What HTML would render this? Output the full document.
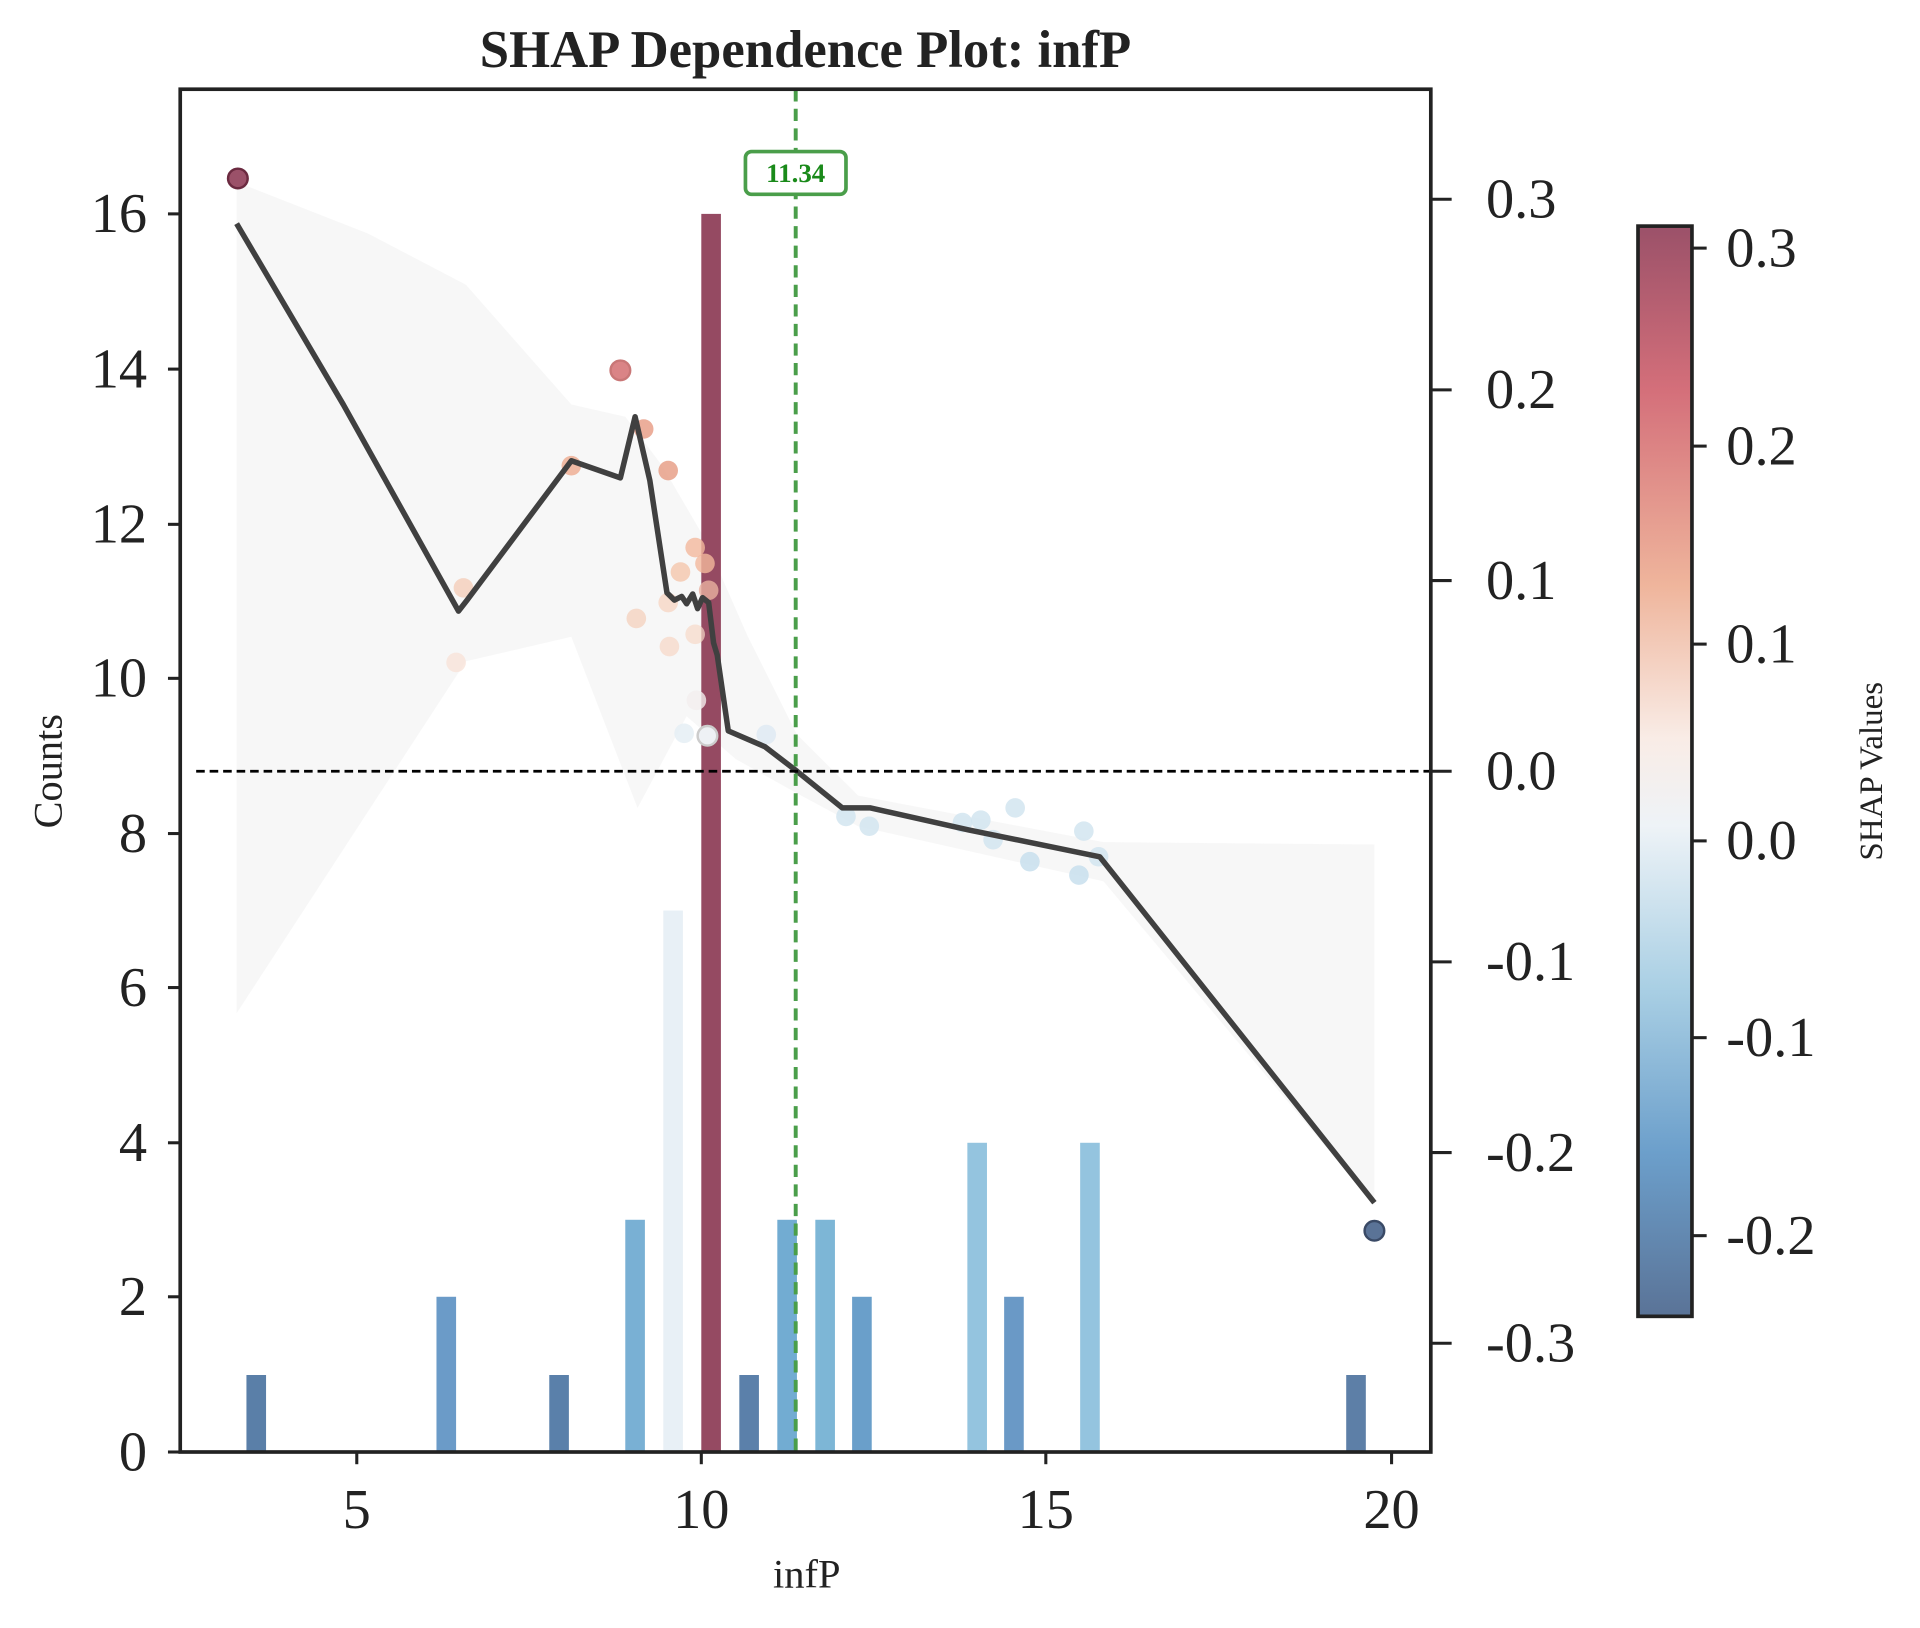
<!DOCTYPE html>
<html><head><meta charset="utf-8"><style>html,body{margin:0;padding:0;background:#fff}svg{display:block}</style></head><body>
<svg width="1920" height="1628" viewBox="0 -1 1566 1332" preserveAspectRatio="none" xmlns="http://www.w3.org/2000/svg" font-family="Liberation Serif, serif">
<defs><linearGradient id="cb" x1="0" y1="0" x2="0" y2="1">
<stop offset="0" stop-color="#9b5169"/><stop offset="0.15" stop-color="#d46f7a"/><stop offset="0.33" stop-color="#efb59c"/><stop offset="0.47" stop-color="#f9ece6"/><stop offset="0.55" stop-color="#eef3f7"/><stop offset="0.7" stop-color="#a9cfe4"/><stop offset="0.85" stop-color="#6c9fcb"/><stop offset="1" stop-color="#5a7397"/></linearGradient></defs>
<text x="657" y="54" font-size="43" font-weight="bold" text-anchor="middle" fill="#222">SHAP Dependence Plot: infP</text>
<polygon fill="#efefef" fill-opacity="0.5" points="193,148 300,190 380,232 466,330 510,340 540,380 575,440 610,520 650,600 700,650 900,688 1121,690 1121,985 900,720 700,675 650,648 600,620 560,585 520,660 466,520 380,540 193,828"/>
<g>
<rect x="201" y="1124" width="16" height="63" fill="#5a7fa8"/>
<rect x="356" y="1060" width="16" height="127" fill="#6b9bc8"/>
<rect x="448" y="1124" width="16" height="63" fill="#5a80aa"/>
<rect x="510" y="997" width="16" height="190" fill="#79b0d4"/>
<rect x="541" y="744" width="16" height="443" fill="#e8f0f6"/>
<rect x="572" y="174" width="16" height="1013" fill="#954a62"/>
<rect x="603" y="1124" width="16" height="63" fill="#5b80aa"/>
<rect x="634" y="997" width="16" height="190" fill="#72acd2"/>
<rect x="665" y="997" width="16" height="190" fill="#7db6d6"/>
<rect x="695" y="1060" width="16" height="127" fill="#6a9fca"/>
<rect x="789" y="934" width="16" height="253" fill="#94c4df"/>
<rect x="819" y="1060" width="16" height="127" fill="#6a99c6"/>
<rect x="881" y="934" width="16" height="253" fill="#94c4df"/>
<rect x="1098" y="1124" width="16" height="63" fill="#5d7fa7"/>
</g>
<g stroke-width="2">
<circle cx="194" cy="145" r="8" fill="#9b5169" stroke="#6b2a40"/>
<circle cx="506" cy="302" r="8" fill="#d46f72" stroke="#c06060" opacity=".85"/>
<circle cx="525" cy="350" r="8" fill="#e79a82" opacity=".8"/>
<circle cx="466" cy="380" r="8" fill="#eeaa8e" opacity=".8"/>
<circle cx="545" cy="384" r="8" fill="#e8a088" opacity=".85"/>
<circle cx="567" cy="447" r="8" fill="#f2b89c" opacity=".8"/>
<circle cx="575" cy="460" r="8" fill="#f2b89c" opacity=".8"/>
<circle cx="555" cy="467" r="8" fill="#f4c5ab" opacity=".8"/>
<circle cx="378" cy="480" r="8" fill="#f4c8b0" opacity=".7"/>
<circle cx="578" cy="482" r="8" fill="#e8b0a0" opacity=".8"/>
<circle cx="545" cy="492" r="8" fill="#f6d2bd" opacity=".7"/>
<circle cx="519" cy="505" r="8" fill="#f4cdb8" opacity=".7"/>
<circle cx="567" cy="518" r="8" fill="#f7d9c8" opacity=".7"/>
<circle cx="546" cy="528" r="8" fill="#f6d6c4" opacity=".7"/>
<circle cx="372" cy="541" r="8" fill="#f8e0d4" opacity=".7"/>
<circle cx="568" cy="572" r="8" fill="#f3eeee" opacity=".8"/>
<circle cx="558" cy="599" r="8" fill="#e3edf4" opacity=".8"/>
<circle cx="577" cy="601" r="8" fill="#eef1f5" stroke="#ccc"/>
<circle cx="625" cy="600" r="8" fill="#dde9f2" opacity=".8"/>
<circle cx="690" cy="667" r="8" fill="#cfe3ef" opacity=".8"/>
<circle cx="709" cy="675" r="8" fill="#cfe3ef" opacity=".8"/>
<circle cx="785" cy="672" r="8" fill="#cfe3ef" opacity=".8"/>
<circle cx="800" cy="670" r="8" fill="#cfe3ef" opacity=".8"/>
<circle cx="810" cy="686" r="8" fill="#cfe3ef" opacity=".8"/>
<circle cx="828" cy="660" r="8" fill="#cfe3ef" opacity=".8"/>
<circle cx="840" cy="704" r="8" fill="#c4ddec" opacity=".8"/>
<circle cx="880" cy="715" r="8" fill="#c4ddec" opacity=".8"/>
<circle cx="884" cy="679" r="8" fill="#cfe3ef" opacity=".8"/>
<circle cx="896" cy="700" r="8" fill="#cfe3ef" opacity=".8"/>
<circle cx="1121" cy="1006" r="8" fill="#5a7397" stroke="#3a4a66"/>
</g>
<polyline fill="none" stroke="#404040" stroke-width="4.5" stroke-linejoin="round" points="193,182 280,330 374,499 381,490 466,376 506,390 518,340 530,392 544,484 550,490 556,487 560,493 565,485 569,497 573,488 578,492 582,525 585,535 594,597 624,610 650,630 687,660 710,660 790,678 897,700 1121,983"/>
<line x1="160" y1="630" x2="1167" y2="630" stroke="#000" stroke-width="2.2" stroke-dasharray="7,4"/>
<line x1="649" y1="72" x2="649" y2="1187" stroke="#4a9e4a" stroke-width="3.2" stroke-dasharray="10,6"/>
<rect x="608" y="123" width="82" height="35" rx="5" fill="#fff" stroke="#4a9e4a" stroke-width="3"/>
<text x="649" y="148" font-size="22" font-weight="bold" fill="#1a8a1a" text-anchor="middle">11.34</text>
<rect x="147" y="72" width="1020" height="1115" fill="none" stroke="#222" stroke-width="3"/>
<g stroke="#222" stroke-width="2.5">
<line x1="291" y1="1187" x2="291" y2="1197"/><line x1="572" y1="1187" x2="572" y2="1197"/><line x1="853" y1="1187" x2="853" y2="1197"/><line x1="1135" y1="1187" x2="1135" y2="1197"/>
<line x1="137" y1="1187" x2="147" y2="1187"/><line x1="137" y1="1060" x2="147" y2="1060"/><line x1="137" y1="934" x2="147" y2="934"/><line x1="137" y1="807" x2="147" y2="807"/><line x1="137" y1="681" x2="147" y2="681"/><line x1="137" y1="554" x2="147" y2="554"/><line x1="137" y1="428" x2="147" y2="428"/><line x1="137" y1="301" x2="147" y2="301"/><line x1="137" y1="174" x2="147" y2="174"/>
<line x1="1167" y1="162" x2="1184" y2="162"/><line x1="1167" y1="318" x2="1184" y2="318"/><line x1="1167" y1="474" x2="1184" y2="474"/><line x1="1167" y1="630" x2="1184" y2="630"/><line x1="1167" y1="786" x2="1184" y2="786"/><line x1="1167" y1="942" x2="1184" y2="942"/><line x1="1167" y1="1098" x2="1184" y2="1098"/>
</g>
<g font-size="46" fill="#222">
<g text-anchor="middle"><text x="291" y="1249">5</text><text x="572" y="1249">10</text><text x="853" y="1249">15</text><text x="1135" y="1249">20</text></g>
<g text-anchor="end"><text x="120" y="1202">0</text><text x="120" y="1075">2</text><text x="120" y="949">4</text><text x="120" y="822">6</text><text x="120" y="696">8</text><text x="120" y="569">10</text><text x="120" y="443">12</text><text x="120" y="316">14</text><text x="120" y="189">16</text></g>
<g><text x="1212" y="177">0.3</text><text x="1212" y="333">0.2</text><text x="1212" y="489">0.1</text><text x="1212" y="645">0.0</text><text x="1212" y="801">-0.1</text><text x="1212" y="957">-0.2</text><text x="1212" y="1113">-0.3</text></g>
</g>
<text x="658" y="1298" font-size="33" text-anchor="middle" fill="#222">infP</text>
<text transform="translate(50,630) rotate(-90)" font-size="33" text-anchor="middle" fill="#222">Counts</text>
<rect x="1336" y="184" width="44" height="892" fill="url(#cb)" stroke="#222" stroke-width="3"/>
<g stroke="#222" stroke-width="2.5"><line x1="1380" y1="202" x2="1392" y2="202"/><line x1="1380" y1="364" x2="1392" y2="364"/><line x1="1380" y1="526" x2="1392" y2="526"/><line x1="1380" y1="687" x2="1392" y2="687"/><line x1="1380" y1="848" x2="1392" y2="848"/><line x1="1380" y1="1010" x2="1392" y2="1010"/></g>
<g font-size="46" fill="#222"><text x="1408" y="217">0.3</text><text x="1408" y="379">0.2</text><text x="1408" y="541">0.1</text><text x="1408" y="702">0.0</text><text x="1408" y="863">-0.1</text><text x="1408" y="1025">-0.2</text></g>
<text transform="translate(1535,630) rotate(-90)" font-size="27" text-anchor="middle" fill="#222">SHAP Values</text>
</svg>
</body></html>
